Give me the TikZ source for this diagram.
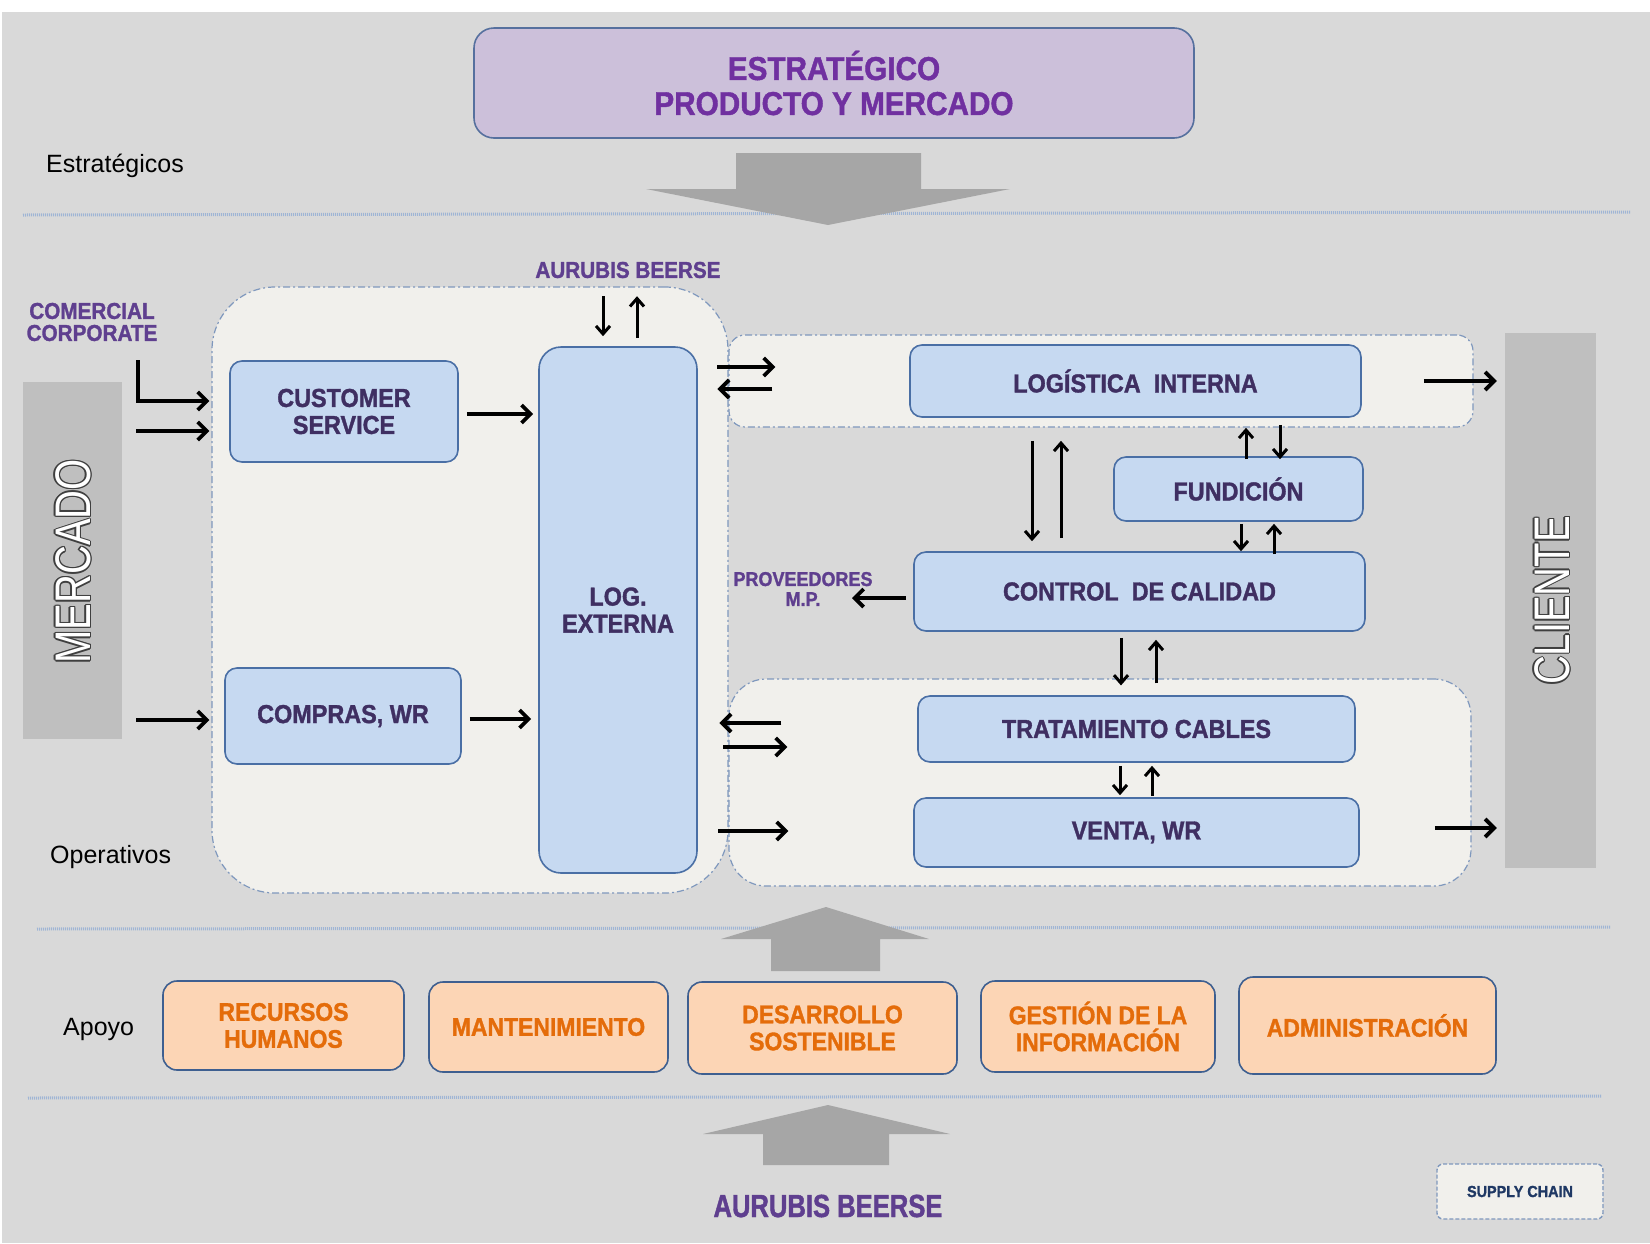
\documentclass[tikz,border=0pt]{standalone}
\usepackage{fontspec}
\setmainfont{Liberation Sans}
\newfontfamily\cond{Liberation Sans}[FakeStretch=0.9, BoldFeatures={FakeBold=1.3}]
\newfontfamily\narrowf{Liberation Sans}[FakeStretch=0.8, BoldFeatures={FakeBold=1.3}]
\usetikzlibrary{arrows.meta,calc}
\definecolor{bgray}{HTML}{D9D9D9}
\definecolor{sepcol}{HTML}{9FB5D5}
\definecolor{arrowgray}{HTML}{A6A6A6}
\definecolor{barcol}{HTML}{BFBFBF}
\definecolor{titlefill}{HTML}{CCC0DA}
\definecolor{titleedge}{HTML}{56709E}
\definecolor{titletext}{HTML}{7030A0}
\definecolor{boxfill}{HTML}{C6D9F1}
\definecolor{boxedge}{HTML}{4A6FA5}
\definecolor{boxtext}{HTML}{3F2F62}
\definecolor{peachfill}{HTML}{FCD5B5}
\definecolor{peachedge}{HTML}{3E5F90}
\definecolor{orangetext}{HTML}{E46C0A}
\definecolor{contfill}{HTML}{F1F0EC}
\definecolor{contedge}{HTML}{7F98BD}
\definecolor{labpurple}{HTML}{5F3F8F}
\definecolor{olcol}{HTML}{3F3F3F}
\definecolor{navytext}{HTML}{1F3864}
\newcommand\olText[3]{%
  \makebox[0pt][l]{\color{#1}\hspace*{-1.3pt}#3}%
  \makebox[0pt][l]{\color{#1}\hspace*{1.3pt}#3}%
  \makebox[0pt][l]{\color{#1}\raisebox{1.3pt}{#3}}%
  \makebox[0pt][l]{\color{#1}\raisebox{-1.3pt}{#3}}%
  \makebox[0pt][l]{\color{#1}\hspace*{-0.9pt}\raisebox{0.9pt}{#3}}%
  \makebox[0pt][l]{\color{#1}\hspace*{0.9pt}\raisebox{0.9pt}{#3}}%
  \makebox[0pt][l]{\color{#1}\hspace*{-0.9pt}\raisebox{-0.9pt}{#3}}%
  \makebox[0pt][l]{\color{#1}\hspace*{0.9pt}\raisebox{-0.9pt}{#3}}%
  {\color{#2}#3}}
\tikzset{
  bluebox/.style={draw=boxedge, fill=boxfill, line width=1.6pt, rounded corners=12pt, align=center,
    font=\cond\bfseries\fontsize{26}{27}\selectfont, text=boxtext, inner sep=0pt},
  peachbox/.style={draw=peachedge, fill=peachfill, line width=1.6pt, rounded corners=14pt, align=center,
    font=\cond\bfseries\fontsize{25.5}{27}\selectfont, text=orangetext, inner sep=0pt},
  contbox/.style={draw=contedge, fill=contfill, line width=1.2pt, dash pattern=on 7pt off 3pt on 2pt off 3pt, inner sep=0pt},
  graybar/.style={fill=barcol, inner sep=0pt},
  arr/.style={line width=3.8pt, -{Straight Barb[length=9pt,width=18pt]}},
  varr/.style={line width=3pt, -{Straight Barb[length=8pt,width=14pt]}},
  sepline/.style={line width=3pt, draw=sepcol, dash pattern=on 1pt off 1pt},
  plab/.style={text=labpurple, align=center, inner sep=0pt},
  plain/.style={text=black, inner sep=0pt, anchor=west, font=\fontsize{25}{25}\selectfont},
}
\begin{document}
\begin{tikzpicture}[x=1pt,y=-1pt]
\useasboundingbox (0,0) rectangle (1650,1243);
\fill[white] (0,0) rectangle (1650,1243);
\fill[bgray] (2,12) rectangle (1650,1243);
% separators
\draw[sepline] (23,215) -- (1631,212);
\draw[sepline] (37,929) -- (1610,927);
\draw[sepline] (28,1098) -- (1602,1096);
% big gray arrows
\fill[arrowgray] (736,153) -- (921,153) -- (921,189) -- (1010,189) -- (828,225) -- (646,189) -- (736,189) -- cycle;
\fill[arrowgray] (771,971) -- (880,971) -- (880,939) -- (929,939) -- (826,907) -- (721,939) -- (771,939) -- cycle;
\fill[arrowgray] (763,1165) -- (889,1165) -- (889,1134) -- (950,1134) -- (828,1105) -- (703,1134) -- (763,1134) -- cycle;
% title
\node[draw=titleedge, fill=titlefill, line width=1.6pt, rounded corners=20pt, minimum width=720pt, minimum height=110pt,
  align=center, text=titletext, font=\cond\bfseries\fontsize{33}{35}\selectfont] (title) at (834,83) {ESTRATÉGICO\\PRODUCTO Y MERCADO};
% containers
\node[contbox, rounded corners=63pt, minimum width=516pt, minimum height=606pt] (lcont) at (470,590) {};
\node[contbox, rounded corners=16pt, minimum width=744pt, minimum height=92pt] (rtc) at (1101,381) {};
\node[contbox, rounded corners=37pt, minimum width=742pt, minimum height=207pt] (rbc) at (1100,782.5) {};
% side bars
\node[graybar, minimum width=99pt, minimum height=357pt] (merc) at (72.5,560.5) {};
\node[rotate=90, inner sep=0pt, font=\narrowf\fontsize{50}{50}\selectfont] (merct) at (73,561.5) {\olText{olcol}{white}{MERCADO}};
\node[graybar, minimum width=91pt, minimum height=535pt] (cli) at (1550.5,600.5) {};
\node[rotate=90, inner sep=0pt, font=\narrowf\fontsize{50}{50}\selectfont] (clit) at (1552,600.5) {\olText{olcol}{white}{CLIENTE}};
% blue boxes
\node[bluebox, minimum width=228pt, minimum height=101pt] (cs) at (344,411.5) {CUSTOMER\\SERVICE};
\node[bluebox, minimum width=236pt, minimum height=96pt] (compras) at (343,716) {COMPRAS, WR};
\node[bluebox, rounded corners=22pt, minimum width=158pt, minimum height=526pt] (logext) at (618,610) {LOG.\\EXTERNA};
\node[bluebox, minimum width=451pt, minimum height=72pt] (logint) at (1135.5,381) {LOGÍSTICA\ \ INTERNA};
\node[bluebox, minimum width=249pt, minimum height=64pt] (fund) at (1238.5,489) {FUNDICIÓN};
\node[bluebox, minimum width=451pt, minimum height=79pt] (ctrl) at (1139.5,591.5) {CONTROL\ \ DE CALIDAD};
\node[bluebox, minimum width=437pt, minimum height=66pt] (trat) at (1136.5,729) {TRATAMIENTO CABLES};
\node[bluebox, minimum width=445pt, minimum height=69pt] (venta) at (1136.5,832.5) {VENTA, WR};
% support boxes
\node[peachbox, minimum width=241pt, minimum height=89pt] (rh) at (283.5,1025.5) {RECURSOS\\HUMANOS};
\node[peachbox, minimum width=239pt, minimum height=90pt] (mant) at (548.5,1027) {MANTENIMIENTO};
\node[peachbox, minimum width=269pt, minimum height=92pt] (des) at (822.5,1028) {DESARROLLO\\SOSTENIBLE};
\node[peachbox, minimum width=234pt, minimum height=91pt] (gest) at (1098,1026.5) {GESTIÓN DE LA\\INFORMACIÓN};
\node[peachbox, minimum width=257pt, minimum height=97pt] (adm) at (1367.5,1025.5) {ADMINISTRACIÓN};
% supply chain
\node[draw=contedge, fill=contfill, line width=1.4pt, dash pattern=on 4pt off 2pt, rounded corners=6pt,
  minimum width=166pt, minimum height=55pt, inner sep=0pt, text=navytext,
  font=\cond\bfseries\fontsize{16}{16}\selectfont] (sc) at (1520,1191.5) {SUPPLY CHAIN};
% labels
\node[plab, font=\cond\bfseries\fontsize{23}{22}\selectfont] (comc) at (92,322) {COMERCIAL\\CORPORATE};
\node[plab, font=\cond\bfseries\fontsize{23}{23}\selectfont] (aurt) at (628,270) {AURUBIS BEERSE};
\node[plab, font=\cond\bfseries\fontsize{20}{20}\selectfont] (prov) at (803,589) {PROVEEDORES\\M.P.};
\node[plab, font=\narrowf\bfseries\fontsize{32}{32}\selectfont] (aurb) at (828,1206) {AURUBIS BEERSE};
\node[plain] (lestr) at (46,166) {Estratégicos};
\node[plain] (loper) at (50,857) {Operativos};
\node[plain] (lapoyo) at (63,1029) {Apoyo};
% connectors
\coordinate (ccs) at (138,360);
\draw[arr] (ccs) |- ($(lcont.west)+(-2,-189)$);
\draw[arr] ($(merc.east)+(14,-129.5)$) -- ($(lcont.west)+(-2,-159)$);
\draw[arr] ($(merc.east)+(14,159.5)$) -- ($(lcont.west)+(-2,130)$);
\draw[arr] ($(cs.east)+(8,2.5)$) -- ($(logext.west|-cs.east)+(-5,2.5)$);
\draw[arr] ($(compras.east)+(8,3)$) -- ($(logext.west|-compras.east)+(-7,3)$);
\draw[varr] ($(logext.north)+(-15,-50)$) -- ($(logext.north)+(-15,-10)$);
\draw[varr] ($(logext.north)+(19,-8)$) -- ($(logext.north)+(19,-50)$);
\draw[arr] ($(rtc.west)+(-11,-14)$) -- ($(rtc.west)+(47,-14)$);
\draw[arr] ($(rtc.west)+(44,8)$) -- ($(rtc.west)+(-11,8)$);
\draw[arr] ($(logint.east)+(62,0)$) -- ($(cli.west|-logint.east)+(-8,0)$);
\draw[varr] ($(logint.south)+(-103.5,23)$) -- ($(ctrl.north)+(-107.5,-10)$);
\draw[varr] ($(ctrl.north)+(-78.5,-13)$) -- ($(logint.south)+(-74.5,23)$);
\draw[varr] ($(fund.north)+(7.5,3)$) -- ($(logint.south)+(110.5,10)$);
\draw[varr] ($(logint.south)+(144.5,7)$) -- ($(fund.north)+(41.5,3)$);
\draw[varr] ($(fund.south)+(2.5,2)$) -- ($(ctrl.north)+(101.5,0)$);
\draw[varr] ($(ctrl.north)+(134.5,3)$) -- ($(fund.south)+(35.5,2)$);
\coordinate (pv) at (852,598);
\draw[arr] ($(ctrl.west)+(-7,6.5)$) -- (pv);
\draw[varr] ($(ctrl.south)+(-18.5,6)$) -- ($(rbc.north)+(21,7)$);
\draw[varr] ($(rbc.north)+(56,5)$) -- ($(ctrl.south)+(16.5,8)$);
\draw[varr] ($(trat.south)+(-16.5,3)$) -- ($(venta.north)+(-16.5,-2)$);
\draw[varr] ($(venta.north)+(15.5,-1)$) -- ($(trat.south)+(15.5,3)$);
\draw[arr] ($(rbc.west)+(53,-59.5)$) -- ($(rbc.west)+(-9,-59.5)$);
\draw[arr] ($(rbc.west)+(-5,-35.5)$) -- ($(rbc.west)+(59,-35.5)$);
\draw[arr] ($(rbc.west)+(-10,48.5)$) -- ($(rbc.west)+(60,48.5)$);
\draw[arr] ($(venta.east)+(75,-4.5)$) -- ($(cli.west|-venta.east)+(-8,-4.5)$);
\end{tikzpicture}
\end{document}
